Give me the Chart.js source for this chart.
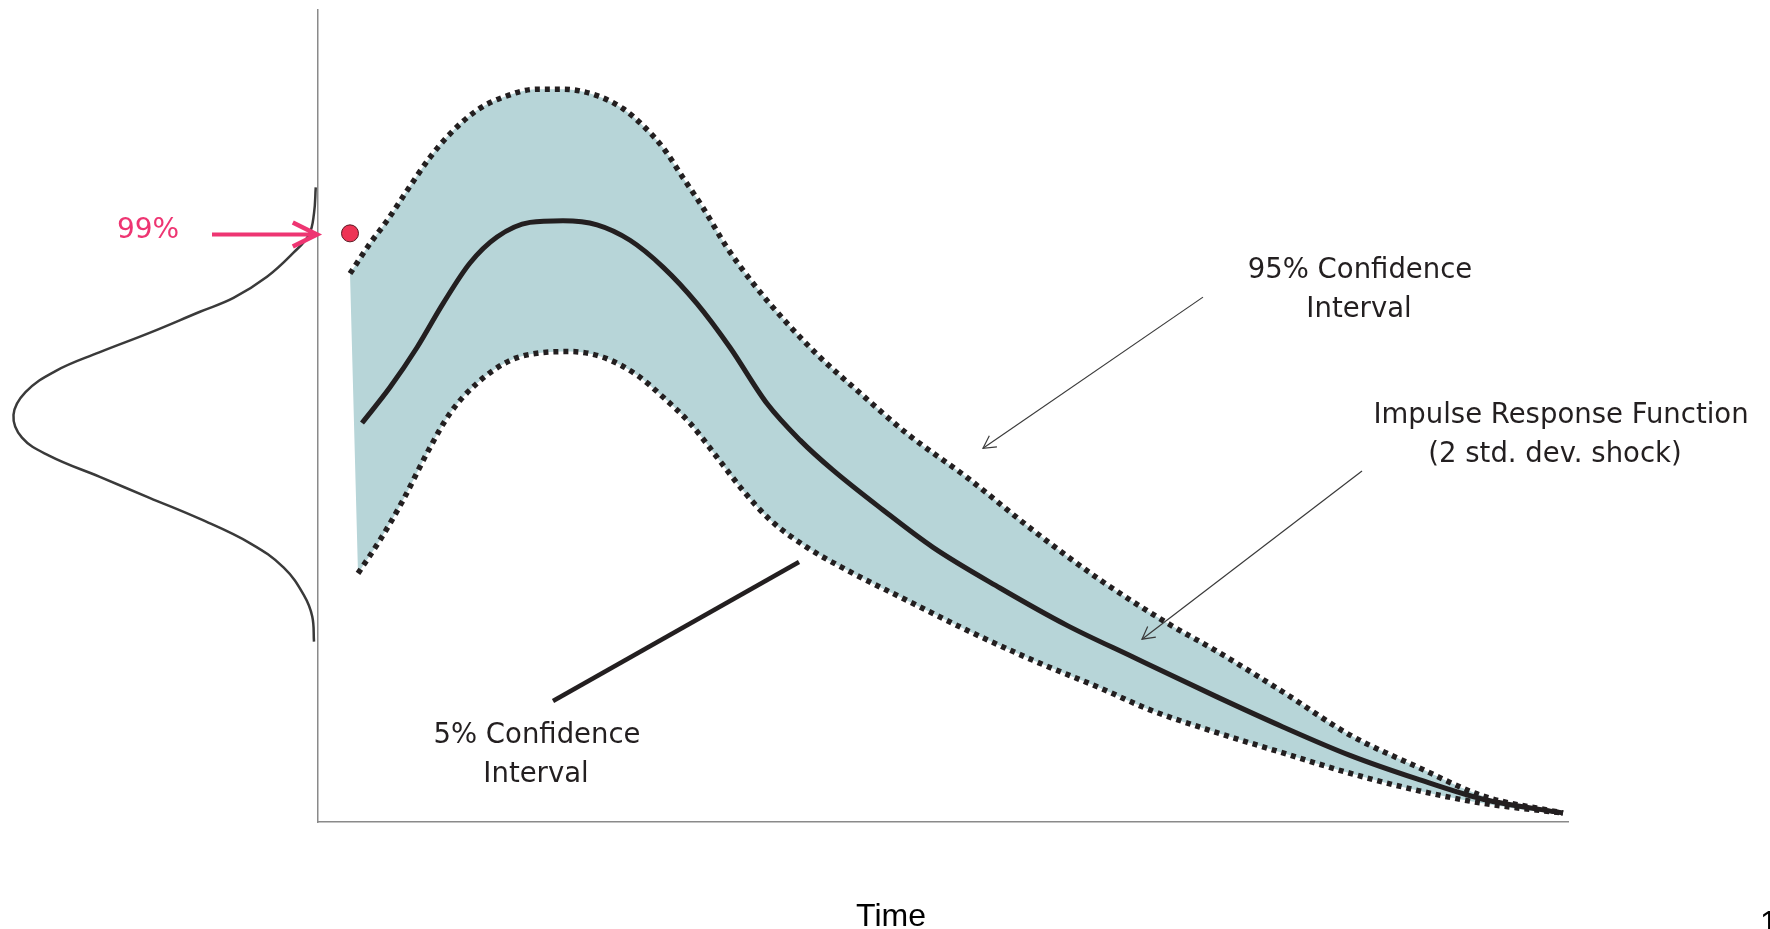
<!DOCTYPE html>
<html>
<head>
<meta charset="utf-8">
<script src="https://cdn.jsdelivr.net/npm/chart.js@4.4.1/dist/chart.umd.min.js"></script>
<style>
  html, body { margin: 0; padding: 0; background: #ffffff; }
  #wrap { width: 1770px; height: 929px; position: relative; }
</style>
</head>
<body>
<div id="wrap"><canvas id="c"></canvas></div>
<script>
// ---------- DATA ----------
// Upper dotted bound ("95% Confidence Interval")
const upperTime = [1.28, 2.08, 2.76, 3.56, 4.48, 5.28, 6.36, 7.40, 8.76, 9.80, 11.16, 12.20, 13.00, 13.80, 14.60, 15.40, 16.36, 17.40, 18.76, 20.08, 21.68, 23.56, 25.96, 28.60, 31.28, 33.96, 35.96, 38.60, 41.28, 43.96, 46.60, 49.80];
const upperBound = [67.5, 71.2, 74.0, 77.7, 81.8, 84.7, 87.6, 89.2, 90.2, 90.2, 89.4, 87.8, 85.7, 83.0, 79.3, 75.6, 70.7, 66.3, 61.4, 57.2, 52.8, 47.8, 42.4, 35.9, 29.8, 24.5, 21.0, 16.0, 10.7, 6.8, 3.2, 1.1];

// Impulse response function (solid line)
const irfTime = [1.76, 2.88, 3.96, 5.00, 6.08, 7.16, 8.48, 9.80, 11.16, 12.48, 13.80, 15.16, 16.48, 17.96, 19.28, 20.60, 22.60, 24.60, 27.28, 29.96, 32.60, 35.96, 38.60, 41.28, 43.96, 46.60, 49.80];
const irfValue = [49.1, 53.5, 58.4, 63.8, 68.8, 72.0, 73.8, 74.0, 73.5, 71.6, 68.3, 63.8, 58.4, 51.5, 47.0, 43.3, 38.4, 33.8, 28.8, 24.2, 20.3, 15.4, 11.7, 8.2, 5.3, 2.8, 1.1];

// Lower dotted bound ("5% Confidence Interval")
const lowerTime = [1.60, 2.48, 3.40, 4.36, 5.28, 6.36, 7.68, 8.76, 10.08, 11.40, 12.76, 13.80, 14.88, 15.96, 17.00, 18.08, 19.56, 21.16, 23.28, 25.96, 28.60, 31.28, 33.28, 35.96, 38.60, 41.28, 43.96, 46.60, 49.80];
const lowerBound = [30.6, 34.7, 39.6, 45.4, 50.3, 54.0, 56.8, 57.7, 57.9, 57.2, 55.0, 52.3, 49.1, 44.9, 40.8, 37.2, 33.8, 31.0, 27.7, 23.6, 19.9, 16.5, 13.8, 11.0, 8.5, 6.0, 3.9, 2.3, 1.1];

// Sideways bell curve (distribution drawn left of the vertical axis)
const bellX = [-0.09, -0.16, -0.36, -0.97, -2.04, -3.38, -4.72, -6.74, -8.75, -10.50, -11.70, -12.18, -11.84, -10.76, -8.75, -6.74, -4.72, -2.71, -1.37, -0.56, -0.23, -0.16];
const bellY = [78.1, 74.9, 72.3, 70.1, 67.1, 64.5, 62.8, 60.2, 57.8, 55.5, 52.9, 50.1, 47.3, 45.1, 42.5, 39.9, 37.3, 34.3, 31.3, 27.9, 25.3, 22.2];

// 99% marker (red dot) and arrow pointing to it
const marker99 = [1.28, 72.45];
const arrow99X = [-0.04, -4.24];
const arrow99Y = [72.3, 72.3];

// Leader lines from the labels
const pointer95X = [35.40, 26.60];
const pointer95Y = [64.6, 46.0];
const pointerIrfX = [41.76, 32.96];
const pointerIrfY = [43.2, 22.5];
const pointer5X = [9.40, 19.24];
const pointer5Y = [14.9, 32.0];

// Scale ranges
const timeRange = [0, 50];
const valueRange = [0, 100];

// Text
const label99 = '99%';
const label95 = ['95% Confidence', 'Interval'];
const labelIrf = ['Impulse Response Function', '(2 std. dev. shock)'];
const label5 = ['5% Confidence', 'Interval'];
const axisTitle = 'Time';
const pageNumber = '1';

// ---------- BUILD ----------
const pts = (xs, ys) => xs.map((x, i) => ({x: x, y: ys[i]}));
const upperPts = pts(upperTime, upperBound);
const lowerPts = pts(lowerTime, lowerBound);
const bandPts = upperPts.concat(lowerPts.slice().reverse());

const INK = '#231f20';
const PINK = '#ee3572';
const TEAL = '#b7d5d8';

const arrowPlugin = {
  id: 'arrowHeads',
  afterDatasetsDraw(chart) {
    const ctx = chart.ctx;
    chart.data.datasets.forEach((ds, i) => {
      if (!ds.arrowHead) return;
      const meta = chart.getDatasetMeta(i);
      const n = meta.data.length;
      const tipIdx = ds.arrowHead.at === 'first' ? 0 : n - 1;
      const fromIdx = ds.arrowHead.at === 'first' ? 1 : n - 2;
      const tip = meta.data[tipIdx], from = meta.data[fromIdx];
      const ang = Math.atan2(from.y - tip.y, from.x - tip.x);
      const L = ds.arrowHead.len, a = ds.arrowHead.spread;
      ctx.save();
      ctx.strokeStyle = ds.borderColor;
      ctx.lineWidth = ds.arrowHead.width;
      ctx.lineCap = 'butt';
      ctx.lineJoin = 'miter';
      ctx.beginPath();
      ctx.moveTo(tip.x + L * Math.cos(ang + a), tip.y + L * Math.sin(ang + a));
      ctx.lineTo(tip.x, tip.y);
      ctx.lineTo(tip.x + L * Math.cos(ang - a), tip.y + L * Math.sin(ang - a));
      ctx.stroke();
      ctx.restore();
    });
  }
};

const textPlugin = {
  id: 'texts',
  afterDraw(chart) {
    const ctx = chart.ctx;
    const ann = '27.5px "DejaVu Sans"';
    const items = [
      {t: label99, x: 148, y: 238, f: '28px "DejaVu Sans"', c: PINK, a: 'center'},
      {t: label95[0], x: 1360, y: 278, f: ann, c: INK, a: 'center'},
      {t: label95[1], x: 1359, y: 317, f: ann, c: INK, a: 'center'},
      {t: labelIrf[0], x: 1561, y: 423, f: ann, c: INK, a: 'center'},
      {t: labelIrf[1], x: 1555, y: 462, f: ann, c: INK, a: 'center'},
      {t: label5[0], x: 537, y: 743, f: ann, c: INK, a: 'center'},
      {t: label5[1], x: 536, y: 782, f: ann, c: INK, a: 'center'},
      {t: axisTitle, x: 891, y: 926, f: '32px "Liberation Sans"', c: '#000000', a: 'center'},
      {t: pageNumber, x: 1760, y: 933, f: '32px "Liberation Sans"', c: '#000000', a: 'left'}
    ];
    ctx.save();
    ctx.textBaseline = 'alphabetic';
    items.forEach(it => {
      ctx.font = it.f;
      ctx.fillStyle = it.c;
      ctx.textAlign = it.a;
      ctx.fillText(it.t, it.x, it.y);
    });
    ctx.restore();
  }
};

const lineBase = {type: 'line', pointRadius: 0, pointHoverRadius: 0, fill: false, clip: false, tension: 0.35};
const smooth = {cubicInterpolationMode: 'monotone'};

new Chart(document.getElementById('c'), {
  type: 'line',
  data: {
    datasets: [
      Object.assign({}, lineBase, smooth, {label: 'band', data: bandPts, borderWidth: 0, borderColor: 'rgba(0,0,0,0)', backgroundColor: TEAL, fill: 'shape', order: 20}),
      Object.assign({}, lineBase, {label: 'bell', data: pts(bellX, bellY), borderColor: '#3a3a3a', borderWidth: 2.5, tension: 0.4, order: 5}),
      Object.assign({}, lineBase, smooth, {label: '95%', data: upperPts, borderColor: INK, borderWidth: 5.5, borderDash: [5, 5], borderCapStyle: 'butt', order: 4}),
      Object.assign({}, lineBase, smooth, {label: '5%', data: lowerPts, borderColor: INK, borderWidth: 5.5, borderDash: [5, 5], borderCapStyle: 'butt', order: 4}),
      Object.assign({}, lineBase, smooth, {label: 'IRF', data: pts(irfTime, irfValue), borderColor: INK, borderWidth: 5, borderCapStyle: 'butt', order: 3}),
      Object.assign({}, lineBase, {label: 'ptr95', data: pts(pointer95X, pointer95Y), borderColor: '#3a3a3a', borderWidth: 1.2, tension: 0, order: 2,
        arrowHead: {at: 'last', len: 14, spread: 0.5, width: 1.2}}),
      Object.assign({}, lineBase, {label: 'ptrIrf', data: pts(pointerIrfX, pointerIrfY), borderColor: '#3a3a3a', borderWidth: 1.2, tension: 0, order: 2,
        arrowHead: {at: 'last', len: 14, spread: 0.5, width: 1.2}}),
      Object.assign({}, lineBase, {label: 'ptr5', data: pts(pointer5X, pointer5Y), borderColor: INK, borderWidth: 4.5, tension: 0, order: 2}),
      Object.assign({}, lineBase, {label: 'arrow99', data: pts(arrow99X, arrow99Y), borderColor: PINK, borderWidth: 4, tension: 0, order: 1,
        arrowHead: {at: 'first', len: 27, spread: 0.46, width: 4.5}}),
      {type: 'scatter', label: '99% point', data: [{x: marker99[0], y: marker99[1]}], pointRadius: 8.5, pointHoverRadius: 8.5,
        pointBackgroundColor: '#ee3455', pointBorderColor: '#5c1a24', pointBorderWidth: 1, clip: false, order: 0}
    ]
  },
  options: {
    responsive: true,
    maintainAspectRatio: false,
    animation: false,
    events: [],
    layout: {padding: {left: 318, right: 202, top: 9, bottom: 107}},
    plugins: {legend: {display: false}, tooltip: {enabled: false}, title: {display: false}},
    scales: {
      x: {type: 'linear', min: timeRange[0], max: timeRange[1],
          grid: {display: false, drawTicks: false}, ticks: {display: false},
          border: {display: true, color: '#8a8a8a', width: 1.5}},
      y: {type: 'linear', min: valueRange[0], max: valueRange[1],
          grid: {display: false, drawTicks: false}, ticks: {display: false},
          border: {display: true, color: '#8a8a8a', width: 1.5}}
    }
  },
  plugins: [arrowPlugin, textPlugin]
});
</script>
</body>
</html>
